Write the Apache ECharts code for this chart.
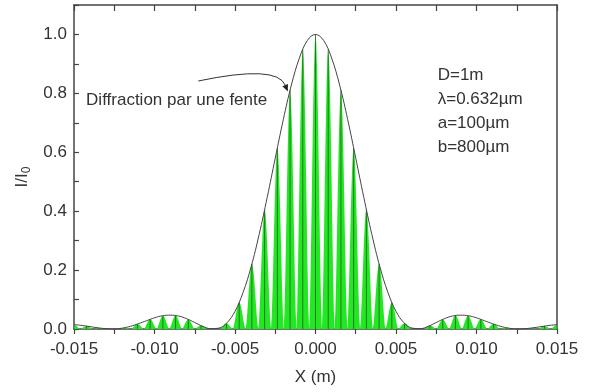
<!DOCTYPE html>
<html>
<head>
<meta charset="utf-8">
<script src="https://cdn.jsdelivr.net/npm/echarts@6/dist/echarts.min.js"></script>
<style>
  html, body { margin: 0; padding: 0; background: #fff; }
  #chart { width: 590px; height: 392px; }
</style>
</head>
<body>
<div id="chart"></div>
<script>
// single-slit envelope, sampled every 0.0005 m
const envX = [
  -0.015, -0.0145, -0.014, -0.0135, -0.013, -0.0125, -0.012, -0.0115, -0.011, -0.0105,
  -0.010, -0.0095, -0.009, -0.0085, -0.008, -0.0075, -0.007, -0.0065, -0.006, -0.0055,
  -0.005, -0.0045, -0.004, -0.0035, -0.003, -0.0025, -0.002, -0.0015, -0.001, -0.0005,
  0,
  0.0005, 0.001, 0.0015, 0.002, 0.0025, 0.003, 0.0035, 0.004, 0.0045, 0.005,
  0.0055, 0.006, 0.0065, 0.007, 0.0075, 0.008, 0.0085, 0.009, 0.0095, 0.010,
  0.0105, 0.011, 0.0115, 0.012, 0.0125, 0.013, 0.0135, 0.014, 0.0145, 0.015
];
const envY = [
  0.015, 0.012, 0.008, 0.004, 0.001, 0.000, 0.003, 0.009, 0.018, 0.028,
  0.038, 0.045, 0.047, 0.044, 0.035, 0.022, 0.009, 0.001, 0.003, 0.021,
  0.060, 0.124, 0.211, 0.321, 0.447, 0.580, 0.711, 0.828, 0.920, 0.980,
  1.000,
  0.980, 0.920, 0.828, 0.711, 0.580, 0.447, 0.321, 0.211, 0.124, 0.060,
  0.021, 0.003, 0.001, 0.009, 0.022, 0.035, 0.044, 0.047, 0.045, 0.038,
  0.028, 0.018, 0.009, 0.003, 0.000, 0.001, 0.004, 0.008, 0.012, 0.015
];

// interference fringes (peak position, peak height)
const fringeX = [
  -0.01501, -0.01422, -0.01343, -0.01264, -0.01185, -0.01106, -0.01027, -0.00948, -0.00869, -0.0079,
  -0.00711, -0.00632, -0.00553, -0.00474, -0.00395, -0.00316, -0.00237, -0.00158, -0.00079,
  0,
  0.00079, 0.00158, 0.00237, 0.00316, 0.00395, 0.00474, 0.00553, 0.00632, 0.00711,
  0.0079, 0.00869, 0.00948, 0.01027, 0.01106, 0.01185, 0.01264, 0.01343, 0.01422, 0.01501
];
const fringeY = [
  0.015, 0.010, 0.003, 0.000, 0.004, 0.017, 0.033, 0.045, 0.046, 0.032,
  0.012, 0.000, 0.019, 0.090, 0.221, 0.405, 0.615, 0.811, 0.950,
  1.000,
  0.950, 0.811, 0.615, 0.405, 0.221, 0.090, 0.019, 0.000, 0.012,
  0.032, 0.046, 0.045, 0.033, 0.017, 0.004, 0.000, 0.003, 0.010, 0.015
];
const fringeHalfWidth = 0.000395;

const xTickLabels = ['-0.015', '-0.010', '-0.005', '0.000', '0.005', '0.010', '0.015'];
const yTickLabels = ['0.0', '0.2', '0.4', '0.6', '0.8', '1.0'];
const paramLines = ['D=1m', 'λ=0.632µm', 'a=100µm', 'b=800µm'];
const noteText = 'Diffraction par une fente';

const font = '"Liberation Sans", Arial, sans-serif';
const textColor = '#333';

const chart = echarts.init(document.getElementById('chart'));

// each fringe is drawn as a spike glyph between its two neighbouring minima
function renderFringe(params, api) {
  const x = api.value(0);
  const h = api.value(1);
  if (h <= 0) return null;
  const left = api.coord([x - fringeHalfWidth, 0]);
  const top = api.coord([x, h]);
  const right = api.coord([x + fringeHalfWidth, 0]);
  const pts = [];
  const n = 16;
  for (let i = 0; i <= n; i++) {
    const t = i / n;
    const c = Math.max(0, Math.cos(Math.PI * (t - 0.5)));
    pts.push([left[0] + t * (right[0] - left[0]), left[1] - (left[1] - top[1]) * Math.pow(c, 1.6)]);
  }
  return {
    type: 'group',
    children: [
      { type: 'polygon', shape: { points: pts }, style: { fill: '#22e822' } },
      {
        type: 'line',
        shape: { x1: top[0], y1: top[1], x2: top[0], y2: left[1] },
        style: { stroke: '#2a4f2a', lineWidth: 1, opacity: 0.75 }
      }
    ]
  };
}

const xLabel = (v) => {
  const i = Math.round((v + 0.015) / 0.005);
  return Math.abs(-0.015 + i * 0.005 - v) < 1e-9 ? xTickLabels[i] : '';
};
const yLabel = (v) => {
  const i = Math.round(v / 0.2);
  return Math.abs(i * 0.2 - v) < 1e-9 && i < yTickLabels.length ? yTickLabels[i] : '';
};

const frameLine = { show: true, onZero: false, lineStyle: { color: '#444', width: 1.5 } };

chart.setOption({
  animation: false,
  backgroundColor: '#fff',
  grid: { left: 74, right: 33, top: 5, bottom: 63 },
  xAxis: [
    {
      type: 'value', min: -0.015, max: 0.015, interval: 0.0025,
      axisLine: frameLine,
      axisTick: { show: true, inside: false, length: 5, lineStyle: { color: '#444', width: 1.2 } },
      axisLabel: { formatter: xLabel, color: textColor, fontSize: 17, fontFamily: font, margin: 12 },
      splitLine: { show: false },
      name: 'X (m)', nameLocation: 'middle', nameGap: 40,
      nameTextStyle: { color: textColor, fontSize: 17, fontFamily: font }
    },
    {
      type: 'value', position: 'top', min: -0.015, max: 0.015, interval: 0.0025,
      axisLine: frameLine,
      axisTick: { show: true, inside: true, length: 6, lineStyle: { color: '#444', width: 1.2 } },
      axisLabel: { show: false },
      splitLine: { show: false }
    }
  ],
  yAxis: [
    {
      type: 'value', min: 0, max: 1.1, interval: 0.1,
      axisLine: frameLine,
      axisTick: { show: true, inside: true, length: 5, lineStyle: { color: '#444', width: 1.2 } },
      axisLabel: { formatter: yLabel, color: textColor, fontSize: 17, fontFamily: font, margin: 7 },
      splitLine: { show: false },
      name: '{a|I/I}{b|0}', nameLocation: 'middle', nameGap: 36, nameRotate: 90,
      nameTextStyle: {
        color: textColor, fontFamily: font, padding: [0, 20, 0, 0],
        rich: {
          a: { fontSize: 17, fontFamily: font, color: textColor },
          b: { fontSize: 12, fontFamily: font, color: textColor, padding: [9, 0, 0, 0] }
        }
      }
    },
    {
      type: 'value', position: 'right', min: 0, max: 1.1,
      axisLine: frameLine,
      axisTick: { show: false }, axisLabel: { show: false }, splitLine: { show: false }
    }
  ],
  series: [
    {
      type: 'custom',
      clip: true,
      renderItem: renderFringe,
      data: fringeX.map((x, i) => [x, fringeY[i]]),
      z: 2
    },
    {
      type: 'line',
      data: envX.map((x, i) => [x, envY[i]]),
      smooth: 0.4,
      showSymbol: false,
      clip: true,
      lineStyle: { color: '#444', width: 1 },
      z: 3
    }
  ]
});

// annotations positioned in data coordinates
const px = (v) => chart.convertToPixel({ seriesIndex: 1 }, v);
const arrowStart = px([-0.00728, 0.842]);
const arrowCtrl = px([-0.00240, 0.898]);
const arrowEnd = px([-0.00172, 0.806]);
const dx = arrowEnd[0] - arrowCtrl[0];
const dy = arrowEnd[1] - arrowCtrl[1];
const len = Math.sqrt(dx * dx + dy * dy);
const ux = dx / len, uy = dy / len;
const headLen = 7, headW = 3;
const headBase = [arrowEnd[0] - ux * headLen, arrowEnd[1] - uy * headLen];
const notePos = px([-0.01425, 0.778]);
const paramPos = px([0.00759, 0.904]);

chart.setOption({
  graphic: [
    {
      type: 'bezierCurve',
      shape: {
        x1: arrowStart[0], y1: arrowStart[1],
        cpx1: arrowCtrl[0], cpy1: arrowCtrl[1],
        x2: headBase[0], y2: headBase[1]
      },
      style: { stroke: '#333', lineWidth: 1, fill: null },
      z: 10
    },
    {
      type: 'polygon',
      shape: {
        points: [
          arrowEnd,
          [headBase[0] - uy * headW, headBase[1] + ux * headW],
          [headBase[0] + uy * headW, headBase[1] - ux * headW]
        ]
      },
      style: { fill: '#222' },
      z: 10
    },
    {
      type: 'text',
      x: notePos[0], y: notePos[1],
      style: {
        text: noteText, fill: textColor, font: '17px ' + font,
        verticalAlign: 'middle', align: 'left'
      },
      z: 10
    },
    {
      type: 'text',
      x: paramPos[0], y: paramPos[1],
      style: {
        text: paramLines.join('\n'), fill: textColor, font: '17px ' + font,
        lineHeight: 24.3, verticalAlign: 'top', align: 'left'
      },
      z: 10
    }
  ]
});
</script>
</body>
</html>
